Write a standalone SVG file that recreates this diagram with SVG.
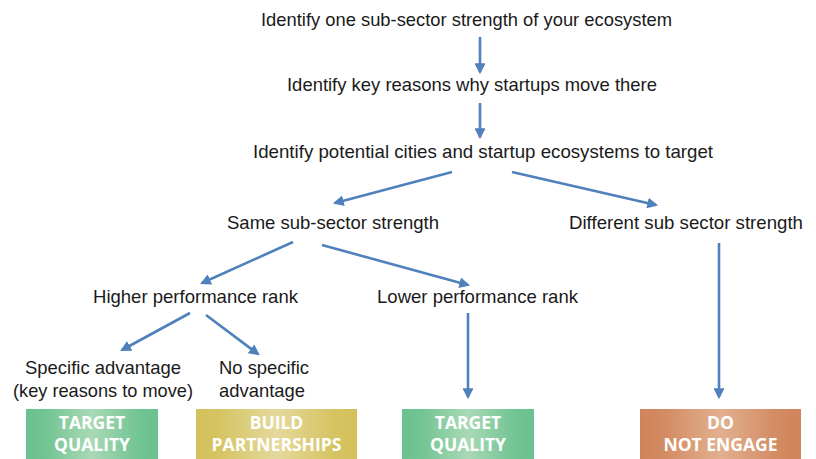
<svg xmlns="http://www.w3.org/2000/svg" width="816" height="459" viewBox="0 0 816 459">
  <style>
    .lbl { font-family: "Liberation Sans", Arial, sans-serif; font-size: 19px; fill: #1a1a1a; }
    .btn { font-family: "Open Sans", "Liberation Sans", sans-serif; font-weight: bold; font-size: 17.5px; fill: #ffffff; text-anchor: middle; }
    .conn line { stroke: #4f81bd; stroke-width: 2.6; marker-end: url(#arrow); }
  </style>
  <defs>
    <marker id="arrow" viewBox="0 0 10 10" refX="8" refY="5" markerWidth="4.2" markerHeight="4.2" orient="auto" markerUnits="strokeWidth">
      <path d="M0,0 L10,5 L0,10 z" fill="#4f81bd"/>
    </marker>
    <linearGradient id="gGreen" x1="0" y1="0" x2="1" y2="0">
      <stop offset="0" stop-color="#6bc18f"/>
      <stop offset="0.15" stop-color="#72c493"/>
      <stop offset="0.5" stop-color="#a9d9b6"/>
      <stop offset="0.85" stop-color="#72c493"/>
      <stop offset="1" stop-color="#6bc18f"/>
    </linearGradient>
    <linearGradient id="gYellow" x1="0" y1="0" x2="1" y2="0">
      <stop offset="0" stop-color="#d3c05a"/>
      <stop offset="0.15" stop-color="#d6c463"/>
      <stop offset="0.5" stop-color="#e4d99c"/>
      <stop offset="0.85" stop-color="#d6c463"/>
      <stop offset="1" stop-color="#d3c05a"/>
    </linearGradient>
    <linearGradient id="gOrange" x1="0" y1="0" x2="1" y2="0">
      <stop offset="0" stop-color="#d0845a"/>
      <stop offset="0.15" stop-color="#d38b63"/>
      <stop offset="0.5" stop-color="#e2b08f"/>
      <stop offset="0.85" stop-color="#d38b63"/>
      <stop offset="1" stop-color="#d0845a"/>
    </linearGradient>
  </defs>

  <rect width="816" height="459" fill="#ffffff"/>

  <!-- flow steps -->
  <g id="step-strength"><text class="lbl" x="261" y="26" textLength="411" lengthAdjust="spacingAndGlyphs">Identify one sub-sector strength of your ecosystem</text></g>
  <g id="step-reasons"><text class="lbl" x="287" y="91" textLength="370" lengthAdjust="spacingAndGlyphs">Identify key reasons why startups move there</text></g>
  <g id="step-cities"><text class="lbl" x="253" y="158" textLength="460" lengthAdjust="spacingAndGlyphs">Identify potential cities and startup ecosystems to target</text></g>
  <g id="same-sector"><text class="lbl" x="227" y="229" textLength="212" lengthAdjust="spacingAndGlyphs">Same sub-sector strength</text></g>
  <g id="different-sector"><text class="lbl" x="569" y="229" textLength="234" lengthAdjust="spacingAndGlyphs">Different sub sector strength</text></g>
  <g id="higher-rank"><text class="lbl" x="93" y="303" textLength="205" lengthAdjust="spacingAndGlyphs">Higher performance rank</text></g>
  <g id="lower-rank"><text class="lbl" x="377" y="303" textLength="201" lengthAdjust="spacingAndGlyphs">Lower performance rank</text></g>
  <g id="specific-advantage">
    <text class="lbl" x="25" y="374" textLength="156" lengthAdjust="spacingAndGlyphs">Specific advantage</text>
    <text class="lbl" x="13" y="397" textLength="180" lengthAdjust="spacingAndGlyphs">(key reasons to move)</text>
  </g>
  <g id="no-advantage">
    <text class="lbl" x="219" y="374" textLength="90" lengthAdjust="spacingAndGlyphs">No specific</text>
    <text class="lbl" x="219" y="397" textLength="86" lengthAdjust="spacingAndGlyphs">advantage</text>
  </g>

  <!-- outcome boxes -->
  <g id="outcome-target-1">
    <rect x="26" y="409" width="132" height="50" fill="url(#gGreen)"/>
    <text class="btn" x="92" y="429">TARGET</text>
    <text class="btn" x="92" y="451">QUALITY</text>
  </g>
  <g id="outcome-partner">
    <rect x="196" y="409" width="161" height="50" fill="url(#gYellow)"/>
    <text class="btn" x="276.5" y="429">BUILD</text>
    <text class="btn" x="276.5" y="451">PARTNERSHIPS</text>
  </g>
  <g id="outcome-target-2">
    <rect x="402" y="409" width="132" height="50" fill="url(#gGreen)"/>
    <text class="btn" x="468" y="429">TARGET</text>
    <text class="btn" x="468" y="451">QUALITY</text>
  </g>
  <g id="outcome-disengage">
    <rect x="640" y="409" width="161" height="50" fill="url(#gOrange)"/>
    <text class="btn" x="720.5" y="429">DO</text>
    <text class="btn" x="720.5" y="451">NOT ENGAGE</text>
  </g>

  <!-- connectors -->
  <g class="conn">
    <line x1="480" y1="37" x2="480" y2="72"/>
    <line x1="480" y1="103" x2="480" y2="137"/>
    <line x1="452" y1="172" x2="335" y2="203"/>
    <line x1="512" y1="172" x2="656" y2="205"/>
    <line x1="293" y1="242" x2="202" y2="283"/>
    <line x1="322" y1="245" x2="468" y2="285"/>
    <line x1="190" y1="313" x2="122" y2="350"/>
    <line x1="206" y1="315" x2="258" y2="354"/>
    <line x1="468" y1="313" x2="468" y2="397"/>
    <line x1="719" y1="243" x2="719" y2="397"/>
  </g>
</svg>
